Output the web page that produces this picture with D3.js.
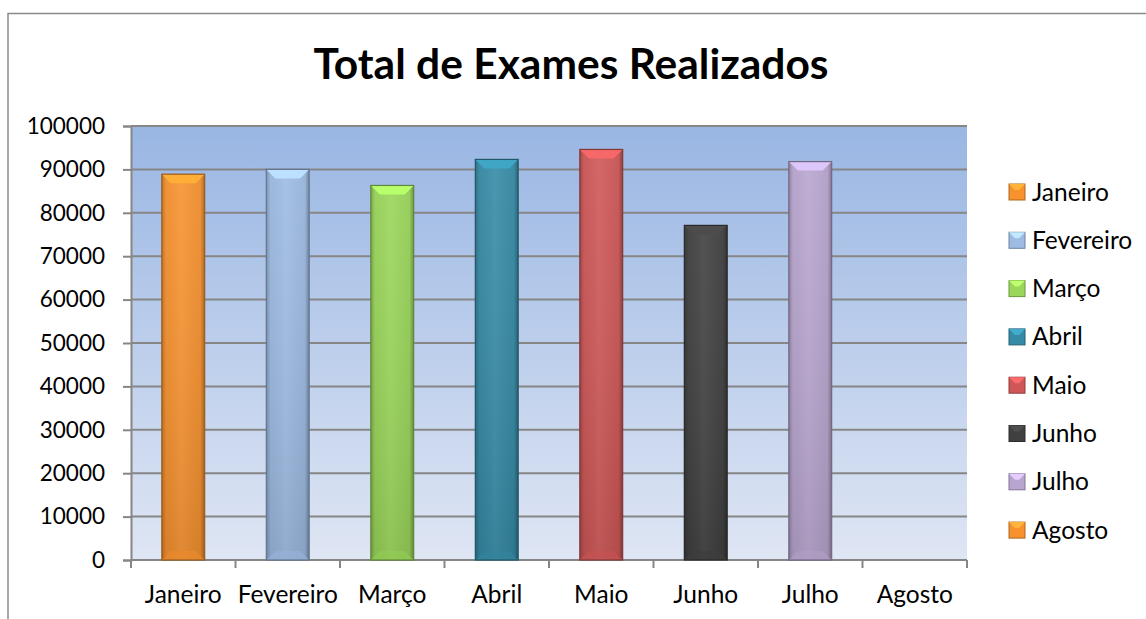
<!DOCTYPE html>
<html>
<head>
<meta charset="utf-8">
<script src="https://cdn.jsdelivr.net/npm/d3@7"></script>
<style>
  body { margin: 0; background: #fff; }
  svg { display: block; font-family: Lato, "Open Sans", sans-serif; }
</style>
</head>
<body>
<svg id="chart" width="1146" height="619"></svg>
<script>
// chart data
var months = ["Janeiro", "Fevereiro", "Março", "Abril", "Maio", "Junho", "Julho", "Agosto"];
var totals = [88900, 90000, 86300, 92300, 94600, 77100, 91800, 0];
var colors = ["#f7922f", "#9dbbe3", "#9ad65a", "#358ba6", "#cf5757", "#404040", "#b9a6d0", "#f7922f"];
var yTicks = [0, 10000, 20000, 30000, 40000, 50000, 60000, 70000, 80000, 90000, 100000];

var svg = d3.select("#chart");
var plotLeft = 131, plotRight = 967, plotTop = 126, plotBottom = 560;
var labelSize = "24.5px";

var x = d3.scaleBand().domain(months).range([plotLeft, plotRight])
    .paddingInner(0.59).paddingOuter(0.295);
var y = d3.scaleLinear().domain([0, 100000]).range([plotBottom, plotTop]);

var defs = svg.append("defs");

// plot area background
var bg = defs.append("linearGradient").attr("id", "bg")
    .attr("x1", 0).attr("y1", 0).attr("x2", 0).attr("y2", 1);
bg.append("stop").attr("offset", "0%").attr("stop-color", "#99b6e3");
bg.append("stop").attr("offset", "100%").attr("stop-color", "#dfe6f4");

// shading laid over each bar: darker sides, darker towards the bottom
var side = defs.append("linearGradient").attr("id", "side")
    .attr("x1", 0).attr("y1", 0).attr("x2", 1).attr("y2", 0);
side.append("stop").attr("offset", "0%").attr("stop-color", "#000").attr("stop-opacity", 0.22);
side.append("stop").attr("offset", "10%").attr("stop-color", "#000").attr("stop-opacity", 0.03);
side.append("stop").attr("offset", "45%").attr("stop-color", "#fff").attr("stop-opacity", 0.05);
side.append("stop").attr("offset", "90%").attr("stop-color", "#000").attr("stop-opacity", 0.04);
side.append("stop").attr("offset", "100%").attr("stop-color", "#000").attr("stop-opacity", 0.3);

var fade = defs.append("linearGradient").attr("id", "fade")
    .attr("x1", 0).attr("y1", 0).attr("x2", 0).attr("y2", 1);
fade.append("stop").attr("offset", "0%").attr("stop-color", "#fff").attr("stop-opacity", 0.05);
fade.append("stop").attr("offset", "100%").attr("stop-color", "#000").attr("stop-opacity", 0.1);

// outer frame (cropped on the right and bottom)
svg.append("path")
    .attr("d", "M8,619 V13.5 H1146")
    .attr("fill", "none").attr("stroke", "#8a8a8a").attr("stroke-width", 1.5);

// title
svg.append("text")
    .attr("x", 571).attr("y", 79)
    .attr("text-anchor", "middle")
    .style("font-weight", "bold").style("font-size", "42.5px")
    .text("Total de Exames Realizados");

svg.append("rect")
    .attr("x", plotLeft).attr("y", plotTop)
    .attr("width", plotRight - plotLeft).attr("height", plotBottom - plotTop)
    .attr("fill", "url(#bg)");

// grid lines
svg.append("g").selectAll("line")
    .data(yTicks)
    .join("line")
    .attr("x1", plotLeft).attr("x2", plotRight)
    .attr("y1", function(d) { return y(d); })
    .attr("y2", function(d) { return y(d); })
    .attr("stroke", "#868686").attr("stroke-width", 2);

// y axis
var yAxis = svg.append("g")
    .attr("transform", "translate(" + plotLeft + ",0)")
    .call(d3.axisLeft(y).tickValues(yTicks).tickFormat(d3.format("d")).tickSize(8).tickPadding(18));
yAxis.select(".domain").attr("stroke", "#868686").attr("stroke-width", 2);
yAxis.selectAll(".tick line").attr("stroke", "#868686").attr("stroke-width", 2);
yAxis.attr("font-family", null).attr("font-size", null);
yAxis.selectAll(".tick text").style("font-size", "22.5px").attr("fill", "#000");

// x axis: ticks sit between the categories
var step = x.step();
var edges = months.map(function(m) { return x(m) - (step - x.bandwidth()) / 2; });
edges.push(plotRight);
var xAxis = svg.append("g");
xAxis.append("line")
    .attr("x1", plotLeft).attr("x2", plotRight).attr("y1", plotBottom).attr("y2", plotBottom)
    .attr("stroke", "#868686").attr("stroke-width", 2);
xAxis.selectAll(".xt").data(edges).join("line")
    .attr("class", "xt")
    .attr("x1", function(d) { return d; }).attr("x2", function(d) { return d; })
    .attr("y1", plotBottom).attr("y2", plotBottom + 8)
    .attr("stroke", "#868686").attr("stroke-width", 2);
xAxis.selectAll("text").data(months).join("text")
    .attr("x", function(d) { return x(d) + x.bandwidth() / 2; })
    .attr("y", 603)
    .attr("text-anchor", "middle")
    .style("font-size", labelSize)
    .text(function(d) { return d; });

// bars with a bevelled look
var bars = svg.append("g").selectAll("g")
    .data(months.map(function(m, i) { return { month: m, value: totals[i], color: colors[i] }; })
        .filter(function(d) { return d.value > 0; }))
    .join("g");

bars.append("rect")
    .attr("x", function(d) { return x(d.month); })
    .attr("y", function(d) { return y(d.value); })
    .attr("width", x.bandwidth())
    .attr("height", function(d) { return y(0) - y(d.value); })
    .attr("fill", function(d) { return d.color; });
bars.append("rect")
    .attr("x", function(d) { return x(d.month); })
    .attr("y", function(d) { return y(d.value); })
    .attr("width", x.bandwidth())
    .attr("height", function(d) { return y(0) - y(d.value); })
    .attr("fill", "url(#fade)");
bars.append("rect")
    .attr("x", function(d) { return x(d.month); })
    .attr("y", function(d) { return y(d.value); })
    .attr("width", x.bandwidth())
    .attr("height", function(d) { return y(0) - y(d.value); })
    .attr("fill", "url(#side)");

var bevel = 9;
bars.append("path")
    .attr("d", function(d) {
        var x0 = x(d.month), x1 = x0 + x.bandwidth(), y0 = y(d.value);
        return "M" + x0 + "," + y0 + "H" + x1 + "L" + (x1 - bevel) + "," + (y0 + bevel) +
            "H" + (x0 + bevel) + "Z";
    })
    .attr("fill", function(d) { return d3.color(d.color).brighter(0.5); });
bars.append("path")
    .attr("d", function(d) {
        var x0 = x(d.month), x1 = x0 + x.bandwidth(), y0 = y(0);
        return "M" + x0 + "," + y0 + "H" + x1 + "L" + (x1 - bevel) + "," + (y0 - bevel) +
            "H" + (x0 + bevel) + "Z";
    })
    .attr("fill", function(d) { return d3.color(d.color).darker(0.15); })
    .attr("opacity", 0.7);
bars.append("rect")
    .attr("x", function(d) { return x(d.month); })
    .attr("y", function(d) { return y(d.value); })
    .attr("width", x.bandwidth())
    .attr("height", function(d) { return y(0) - y(d.value); })
    .attr("fill", "none")
    .attr("stroke", function(d) { return d3.color(d.color).darker(1.3); })
    .attr("stroke-width", 1.2);

// legend
var legend = svg.append("g").selectAll("g")
    .data(months)
    .join("g")
    .attr("transform", function(d, i) { return "translate(1009," + (192 + i * 48.3) + ")"; });
legend.append("rect")
    .attr("x", 0).attr("y", -8).attr("width", 16).attr("height", 16)
    .attr("fill", function(d, i) { return colors[i]; })
    .attr("stroke", function(d, i) { return d3.color(colors[i]).darker(1); })
    .attr("stroke-width", 1);
legend.append("path")
    .attr("d", "M0,-8 H16 L10,-2 H6 Z")
    .attr("fill", function(d, i) { return d3.color(colors[i]).brighter(0.6); });
legend.append("text")
    .attr("x", 23).attr("y", 8.5)
    .style("font-size", labelSize)
    .text(function(d) { return d; });
</script>
</body>
</html>
